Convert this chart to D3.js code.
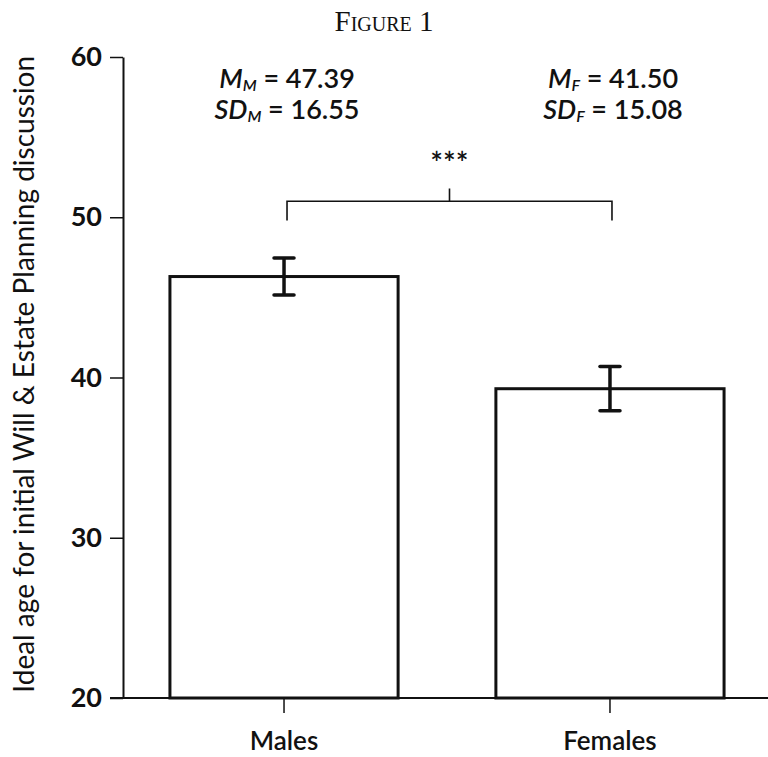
<!DOCTYPE html>
<html>
<head>
<meta charset="utf-8">
<script src="https://cdn.jsdelivr.net/npm/d3@7"></script>
<style>
  body { margin: 0; background: #fff; }
  text { fill: #111; }
</style>
</head>
<body>
<div class="main"></div>
<script>
// values
const groups = ["Males", "Females"];
const means = [46.3, 39.3];
const errors = [1.15, 1.38];
const subs = ["M", "F"];
const meanText = ["47.39", "41.50"];
const sdText = ["16.55", "15.08"];
const yTicks = [20, 30, 40, 50, 60];

const W = 768, H = 757;
const font = "Lato, 'Open Sans', sans-serif";

var svg = d3.select(".main").append("svg")
    .attr("width", W)
    .attr("height", H);

var y = d3.scaleLinear()
    .domain([20, 60])
    .range([698, 57]);

var x = d3.scaleBand()
    .domain(groups)
    .range([123, 771])
    .paddingInner(0.3)
    .paddingOuter(0.144);

// title
svg.append("text")
    .attr("x", 384)
    .attr("y", 31)
    .attr("text-anchor", "middle")
    .style("font-family", "'Liberation Serif', serif")
    .style("font-variant", "small-caps")
    .style("font-size", "29px")
    .text("Figure 1");

// y axis
var yAxis = svg.append("g")
    .attr("transform", "translate(123,0)")
    .call(d3.axisLeft(y).tickValues(yTicks).tickSize(13).tickPadding(8).tickSizeOuter(0));
yAxis.select(".domain").attr("stroke", "#111").attr("stroke-width", 2);
yAxis.selectAll(".tick line").attr("stroke", "#111").attr("stroke-width", 1.5);
yAxis.selectAll(".tick text")
    .style("font-family", font)
    .style("font-size", "27px")
    .style("font-weight", "700")
    .attr("fill", "#111");

// x axis baseline + ticks
svg.append("line")
    .attr("x1", 110).attr("x2", W)
    .attr("y1", y(20)).attr("y2", y(20))
    .attr("stroke", "#111")
    .attr("stroke-width", 2);

svg.selectAll("xtick")
    .data(groups)
    .enter()
    .append("line")
    .attr("x1", d => x(d) + x.bandwidth() / 2)
    .attr("x2", d => x(d) + x.bandwidth() / 2)
    .attr("y1", y(20))
    .attr("y2", y(20) + 15)
    .attr("stroke", "#111")
    .attr("stroke-width", 1.5);

svg.selectAll("xlabel")
    .data(groups)
    .enter()
    .append("text")
    .attr("x", d => x(d) + x.bandwidth() / 2)
    .attr("y", 750)
    .attr("text-anchor", "middle")
    .style("font-family", font)
    .style("font-size", "26px")
    .style("font-weight", "600")
    .text(d => d);

// y axis title
svg.append("text")
    .attr("transform", "translate(34," + y(40.2) + ") rotate(-90)")
    .attr("text-anchor", "middle")
    .style("font-family", font)
    .style("font-size", "28px")
    .text("Ideal age for initial Will & Estate Planning discussion");

// bars
svg.selectAll("bar")
    .data(groups)
    .enter()
    .append("rect")
    .attr("x", d => x(d))
    .attr("y", (d, i) => y(means[i]))
    .attr("width", x.bandwidth())
    .attr("height", (d, i) => y(20) - y(means[i]))
    .attr("fill", "#fff")
    .attr("stroke", "#111")
    .attr("stroke-width", 3);

// error bars
var eb = svg.selectAll("err")
    .data(groups)
    .enter()
    .append("g");
eb.append("line")
    .attr("x1", d => x(d) + x.bandwidth() / 2)
    .attr("x2", d => x(d) + x.bandwidth() / 2)
    .attr("y1", (d, i) => y(means[i] + errors[i]))
    .attr("y2", (d, i) => y(means[i] - errors[i]))
    .attr("stroke", "#111")
    .attr("stroke-width", 3.5);
[1, -1].forEach(function(s) {
    eb.append("line")
        .attr("x1", d => x(d) + x.bandwidth() / 2 - 10)
        .attr("x2", d => x(d) + x.bandwidth() / 2 + 10)
        .attr("y1", (d, i) => y(means[i] + s * errors[i]))
        .attr("y2", (d, i) => y(means[i] + s * errors[i]))
        .attr("stroke", "#111")
        .attr("stroke-width", 3.5)
        .attr("stroke-linecap", "round");
});

// significance bracket
var cx0 = x(groups[0]) + x.bandwidth() / 2 + 3;
var cx1 = x(groups[1]) + x.bandwidth() / 2 + 2;
var by = y(51.0);
svg.append("path")
    .attr("d", `M${cx0},${y(49.8)}V${by}H${cx1}V${y(49.8)}M${(cx0 + cx1) / 2},${by}V${y(51.8)}`)
    .attr("fill", "none")
    .attr("stroke", "#111")
    .attr("stroke-width", 1.6);
svg.append("text")
    .attr("x", (cx0 + cx1) / 2)
    .attr("y", 174)
    .attr("text-anchor", "middle")
    .style("font-family", font)
    .style("font-size", "30px")
    .style("font-weight", "600")
    .text("***");

// mean / sd annotations
groups.forEach(function(g, i) {
    var cx = x(g) + x.bandwidth() / 2 + 3;
    var rows = [["M", meanText[i], 88], ["SD", sdText[i], 119]];
    rows.forEach(function(r) {
        var t = svg.append("text")
            .attr("x", cx)
            .attr("y", r[2])
            .attr("text-anchor", "middle")
            .style("font-family", font)
            .style("font-size", "27px")
            .style("font-weight", "600");
        t.append("tspan").style("font-style", "italic").text(r[0]);
        t.append("tspan").style("font-style", "italic").style("font-size", "16px")
            .attr("dy", 3).text(subs[i]);
        t.append("tspan").attr("dy", -3).text(" = " + r[1]);
    });
});
</script>
</body>
</html>
